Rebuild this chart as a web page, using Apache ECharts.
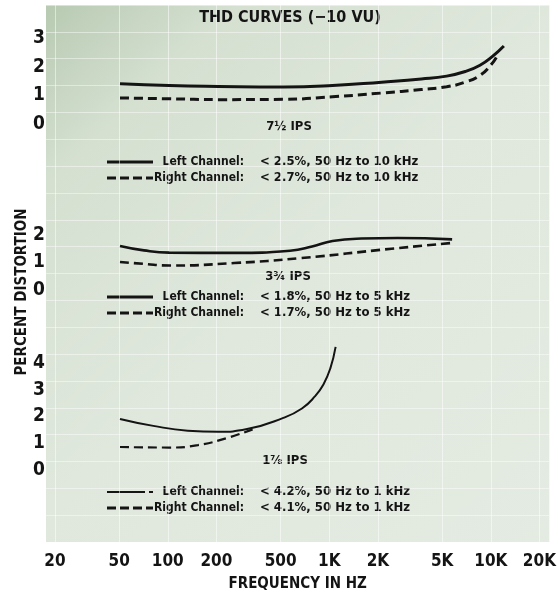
<!DOCTYPE html>
<html>
<head>
<meta charset="utf-8">
<script src="https://cdn.jsdelivr.net/npm/echarts@6/dist/echarts.min.js"></script>
<style>
  html, body { margin: 0; padding: 0; background: #fff; }
  #chart { width: 559px; height: 597px; }
</style>
</head>
<body>
<div id="chart"></div>
<script>
// frequency ticks (Hz)
var freqTicks = [20, 50, 100, 200, 500, 1000, 2000, 5000, 10000, 20000];

// 7 1/2 IPS
var f75Left = [50, 100, 200, 500, 1000, 2000, 3500, 5000, 6500, 8000, 9500, 11200];
var v75Left = [1.40, 1.34, 1.31, 1.29, 1.34, 1.46, 1.57, 1.67, 1.83, 2.05, 2.35, 2.72];
var f75Right = [50, 100, 200, 500, 1000, 2000, 3500, 5000, 6500, 8000, 9300, 10200];
var v75Right = [0.91, 0.88, 0.85, 0.86, 0.95, 1.08, 1.20, 1.30, 1.46, 1.70, 2.05, 2.38];

// 3 3/4 IPS
var f375Left = [50, 70, 100, 250, 550, 750, 1000, 1500, 2500, 5400];
var v375Left = [1.60, 1.44, 1.36, 1.35, 1.43, 1.58, 1.78, 1.87, 1.89, 1.84];
var f375Right = [50, 70, 100, 250, 640, 2300, 5400];
var v375Right = [1.02, 0.95, 0.89, 0.98, 1.16, 1.50, 1.71];

// 1 7/8 IPS
var f178Left = [50, 80, 130, 200, 300, 500, 650, 780, 880, 970, 1045];
var v178Left = [1.91, 1.65, 1.47, 1.43, 1.53, 1.95, 2.30, 2.75, 3.20, 3.80, 4.6];
var f178Right = [50, 100, 150, 227, 328];
var v178Right = [0.86, 0.84, 0.93, 1.20, 1.53];

var FONT = '"DejaVu Sans Condensed", "Liberation Sans Narrow", "DejaVu Sans", sans-serif';
var INK = '#141414';

function pairs(fs, vs) {
  return fs.map(function (f, i) { return [f, vs[i]]; });
}

function fmtFreq(v) {
  return v >= 1000 ? (v / 1000) + 'K' : String(v);
}

var myChart = echarts.init(document.getElementById('chart'));

// data grids: left 55 .. right 545 is 20 Hz .. 20 kHz
function dataX(idx) {
  return {
    gridIndex: idx, type: 'log', min: 20, max: 20000, show: false,
    splitLine: { show: false }
  };
}
function dataY(idx, max) {
  return {
    gridIndex: idx, type: 'value', min: 0, max: max, interval: 1,
    axisLine: { show: false }, axisTick: { show: false },
    splitLine: { show: false },
    axisLabel: {
      color: INK, fontFamily: FONT, fontWeight: 'bold', fontSize: 19, margin: 10,
      formatter: function (v) { return v <= 4 ? v : ''; }
    }
  };
}

function curve(name, idx, fs, vs, dashed, width) {
  return {
    name: name, type: 'line', xAxisIndex: idx, yAxisIndex: idx,
    data: pairs(fs, vs), showSymbol: false, smooth: 0.5,
    silent: true,
    lineStyle: { color: INK, width: width, type: dashed ? [9, 5] : 'solid' }
  };
}

// legend block helper
function legendBlock(y1, y2, txt1, txt2, brokenSolid) {
  var els = [];
  if (brokenSolid) {
    els.push({ type: 'line', shape: { x1: 107, y1: y1, x2: 145, y2: y1 }, style: { stroke: INK, lineWidth: 2 } });
    els.push({ type: 'line', shape: { x1: 149, y1: y1, x2: 153, y2: y1 }, style: { stroke: INK, lineWidth: 2 } });
  } else {
    els.push({ type: 'line', shape: { x1: 107, y1: y1, x2: 153, y2: y1 }, style: { stroke: INK, lineWidth: 3 } });
  }
  els.push({ type: 'line', shape: { x1: 107, y1: y2, x2: 153, y2: y2 }, style: { stroke: INK, lineWidth: 3, lineDash: [9, 4] } });
  var rows = [['Left Channel:', txt1, y1], ['Right Channel:', txt2, y2]];
  rows.forEach(function (r) {
    els.push({ type: 'text', x: 244, y: r[2], style: { text: r[0], fill: INK, font: 'bold 12px ' + FONT, align: 'right', verticalAlign: 'middle' } });
    els.push({ type: 'text', x: 260, y: r[2], style: { text: r[1], fill: INK, font: 'bold 13px ' + FONT, align: 'left', verticalAlign: 'middle' } });
  });
  return els;
}

function label(txt, x, y, size) {
  return { type: 'text', x: x, y: y, style: { text: txt, fill: INK, font: 'bold ' + size + 'px ' + FONT, align: 'center', verticalAlign: 'middle' } };
}

var graphics = [
  label('THD CURVES (\u221210 VU)', 290, 18, 16),
  label('7\u00bd IPS', 289, 127, 13),
  label('3\u00be IPS', 288, 277, 13),
  label('1\u215e IPS', 285, 461, 13),
  {
    type: 'text', x: 22, y: 292, rotation: Math.PI / 2,
    style: { text: 'PERCENT DISTORTION', fill: INK, font: 'bold 15px ' + FONT, align: 'center', verticalAlign: 'middle' }
  }
]
  .concat(legendBlock(162, 178, '< 2.5%, 50 Hz to 10 kHz', '< 2.7%, 50 Hz to 10 kHz', false))
  .concat(legendBlock(297, 313, '< 1.8%, 50 Hz to 5 kHz', '< 1.7%, 50 Hz to 5 kHz', false))
  .concat(legendBlock(492, 508, '< 4.2%, 50 Hz to 1 kHz', '< 4.1%, 50 Hz to 1 kHz', true));

var option = {
  animation: false,
  backgroundColor: '#ffffff',
  grid: [
    // background "graph paper", 46..555 px
    {
      left: 46, top: 5, width: 509, height: 543, show: true, borderWidth: 0,
      backgroundColor: new echarts.graphic.LinearGradient(0, 0, 1, 1, [
        { offset: 0, color: '#b8cab2' },
        { offset: 0.18, color: '#d5e0d1' },
        { offset: 0.5, color: '#e0e8dd' },
        { offset: 1, color: '#e4ebe2' }
      ])
    },
    { left: 55, width: 490, top: 38, height: 86 },
    { left: 55, width: 490, top: 235, height: 55 },
    { left: 55, width: 490, top: 336.25, height: 133.75 }
  ],
  xAxis: [
    {
      gridIndex: 0, type: 'log', min: 17.62, max: 23020,
      axisLine: { show: false },
      axisTick: { show: false, customValues: freqTicks },
      splitLine: { show: true, lineStyle: { color: 'rgba(255,255,255,0.5)', width: 1 } },
      axisLabel: {
        customValues: freqTicks, formatter: fmtFreq, margin: 11,
        color: INK, fontFamily: FONT, fontWeight: 'bold', fontSize: 17
      },
      name: 'FREQUENCY IN HZ', nameLocation: 'middle', nameGap: 35,
      nameTextStyle: { color: INK, fontFamily: FONT, fontWeight: 'bold', fontSize: 15 }
    },
    dataX(1), dataX(2), dataX(3)
  ],
  yAxis: [
    {
      gridIndex: 0, type: 'value', min: 0, max: 20, interval: 1,
      axisLine: { show: false }, axisTick: { show: false }, axisLabel: { show: false },
      splitLine: { show: true, lineStyle: { color: 'rgba(255,255,255,0.45)', width: 1 } }
    },
    dataY(1, 3), dataY(2, 2), dataY(3, 5)
  ],
  series: [
    curve('7.5 Left', 1, f75Left, v75Left, false, 3),
    curve('7.5 Right', 1, f75Right, v75Right, true, 3),
    curve('3.75 Left', 2, f375Left, v375Left, false, 2.6),
    curve('3.75 Right', 2, f375Right, v375Right, true, 2.6),
    curve('1.875 Left', 3, f178Left, v178Left, false, 2),
    curve('1.875 Right', 3, f178Right, v178Right, true, 2.2)
  ],
  graphic: graphics
};

myChart.setOption(option);
</script>
</body>
</html>
